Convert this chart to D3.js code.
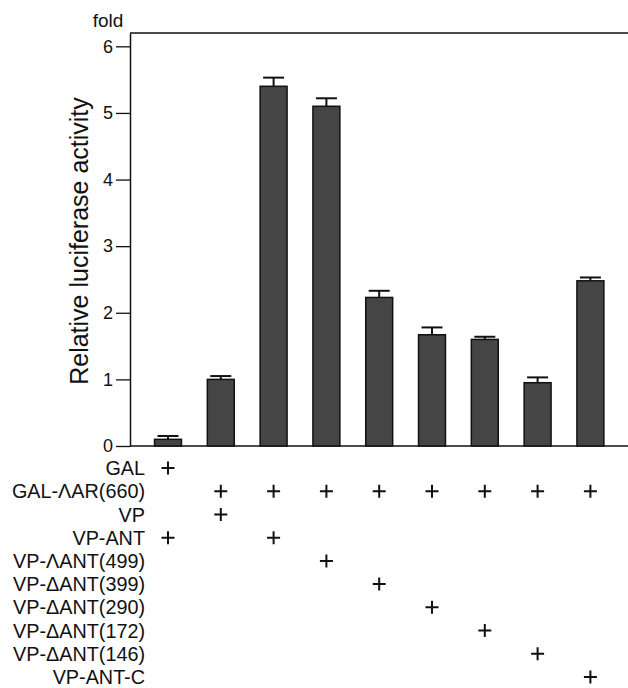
<!DOCTYPE html>
<html>
<head>
<meta charset="utf-8">
<script src="https://cdn.jsdelivr.net/npm/d3@7"></script>
<style>
  body { margin: 0; background: #fff; }
  svg { display: block; font-family: "Liberation Sans", Arial, sans-serif; }
</style>
</head>
<body>
<div id="chart"></div>
<script>
// Lanes (one bar each) and their values
var lanes = ['1', '2', '3', '4', '5', '6', '7', '8', '9'];
var values = [0.10, 1.00, 5.40, 5.10, 2.23, 1.67, 1.60, 0.95, 2.48];
var errors = [0.05, 0.05, 0.13, 0.12, 0.10, 0.11, 0.04, 0.08, 0.05];
var yTicks = [0, 1, 2, 3, 4, 5, 6];

// Constructs listed under the chart
var constructs = ['GAL', 'GAL-\u039BAR(660)', 'VP', 'VP-ANT', 'VP-\u039BANT(499)',
    'VP-\u0394ANT(399)', 'VP-\u0394ANT(290)', 'VP-\u0394ANT(172)', 'VP-\u0394ANT(146)', 'VP-ANT-C'];
// Which constructs each lane received (a "+" in the table)
var laneConstructs = [
    ['GAL', 'VP-ANT'],
    ['GAL-\u039BAR(660)', 'VP'],
    ['GAL-\u039BAR(660)', 'VP-ANT'],
    ['GAL-\u039BAR(660)', 'VP-\u039BANT(499)'],
    ['GAL-\u039BAR(660)', 'VP-\u0394ANT(399)'],
    ['GAL-\u039BAR(660)', 'VP-\u0394ANT(290)'],
    ['GAL-\u039BAR(660)', 'VP-\u0394ANT(172)'],
    ['GAL-\u039BAR(660)', 'VP-\u0394ANT(146)'],
    ['GAL-\u039BAR(660)', 'VP-ANT-C']
];

var width = 628,
    height = 688,
    axisX = 130,
    rightEdge = 628;

var svg = d3.select('#chart').append('svg')
    .attr('width', width)
    .attr('height', height);

// Scales
var x = d3.scaleBand()
    .domain(lanes)
    .range([141.6, 616.8])
    .paddingInner(0.49)
    .paddingOuter(0.245);

var y = d3.scaleLinear()
    .domain([0, 6.2])
    .range([446, 33]);

var rowY = d3.scalePoint()
    .domain(constructs)
    .range([468, 677]);

// Frame: top line and baseline
svg.append('line')
    .attr('x1', axisX).attr('x2', rightEdge)
    .attr('y1', y(6.2)).attr('y2', y(6.2))
    .attr('stroke', '#111').attr('stroke-width', 1.5);

svg.append('line')
    .attr('x1', axisX).attr('x2', rightEdge)
    .attr('y1', y(0)).attr('y2', y(0))
    .attr('stroke', '#111').attr('stroke-width', 1.5);

// Y axis
var yAxis = d3.axisLeft(y)
    .tickValues(yTicks)
    .tickFormat(d3.format('d'))
    .tickSize(14)
    .tickSizeOuter(0)
    .tickPadding(3);

var gy = svg.append('g')
    .attr('transform', 'translate(' + axisX + ',0)')
    .call(yAxis);

gy.attr('font-size', 18)
    .attr('font-family', '"Liberation Sans", Arial, sans-serif');
gy.select('.domain').attr('stroke', '#111').attr('stroke-width', 1.5);
gy.selectAll('.tick line').attr('stroke', '#111').attr('stroke-width', 1.3);
gy.selectAll('.tick text').attr('fill', '#111');

// Unit label
svg.append('text')
    .attr('x', 108)
    .attr('y', 27)
    .attr('text-anchor', 'middle')
    .attr('font-size', 19)
    .attr('fill', '#111')
    .text('fold');

// Y axis title
svg.append('text')
    .attr('transform', 'translate(88,241) rotate(-90)')
    .attr('text-anchor', 'middle')
    .attr('font-size', 25)
    .attr('fill', '#111')
    .text('Relative luciferase activity');

// Bars
var bars = svg.append('g').attr('class', 'bars');

bars.selectAll('rect')
    .data(values)
    .enter().append('rect')
    .attr('x', function(d, i) { return x(lanes[i]); })
    .attr('y', function(d) { return y(d); })
    .attr('width', x.bandwidth())
    .attr('height', function(d) { return y(0) - y(d); })
    .attr('fill', '#454545')
    .attr('stroke', '#111')
    .attr('stroke-width', 1.5);

// Error bars (upper whisker with cap)
var err = svg.append('g').attr('class', 'errors');

err.selectAll('line.stem')
    .data(values)
    .enter().append('line')
    .attr('class', 'stem')
    .attr('x1', function(d, i) { return x(lanes[i]) + x.bandwidth() / 2; })
    .attr('x2', function(d, i) { return x(lanes[i]) + x.bandwidth() / 2; })
    .attr('y1', function(d) { return y(d); })
    .attr('y2', function(d, i) { return y(d + errors[i]); })
    .attr('stroke', '#111')
    .attr('stroke-width', 2);

err.selectAll('line.cap')
    .data(values)
    .enter().append('line')
    .attr('class', 'cap')
    .attr('x1', function(d, i) { return x(lanes[i]) + x.bandwidth() / 2 - 10.5; })
    .attr('x2', function(d, i) { return x(lanes[i]) + x.bandwidth() / 2 + 10.5; })
    .attr('y1', function(d, i) { return y(d + errors[i]); })
    .attr('y2', function(d, i) { return y(d + errors[i]); })
    .attr('stroke', '#111')
    .attr('stroke-width', 2);

// Construct table labels
svg.append('g').selectAll('text')
    .data(constructs)
    .enter().append('text')
    .attr('x', 145)
    .attr('y', function(d) { return rowY(d); })
    .attr('dy', '0.36em')
    .attr('text-anchor', 'end')
    .attr('font-size', 19.8)
    .attr('fill', '#111')
    .text(function(d) { return d; });

// Plus marks
var marks = [];
laneConstructs.forEach(function(list, i) {
    list.forEach(function(c) { marks.push({lane: lanes[i], construct: c}); });
});

svg.append('g').selectAll('path')
    .data(marks)
    .enter().append('path')
    .attr('transform', function(d) {
        return 'translate(' + (x(d.lane) + x.bandwidth() / 2) + ',' + rowY(d.construct) + ')';
    })
    .attr('d', 'M-6.5,0H6.5M0,-6.5V6.5')
    .attr('stroke', '#111')
    .attr('stroke-width', 2)
    .attr('fill', 'none');
</script>
</body>
</html>
